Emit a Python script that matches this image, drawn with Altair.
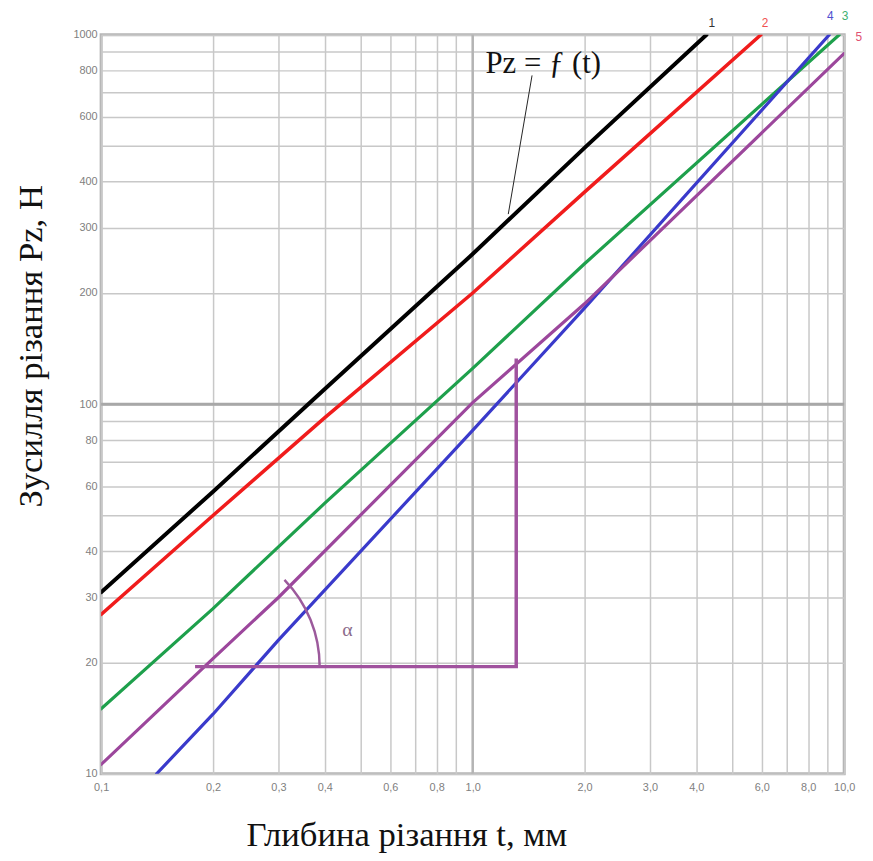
import altair as alt
import pandas as pd

# ---- data ----
series_names = ["1", "2", "3", "4", "5"]
series_colors = ["#000000", "#f01c1c", "#1ea04c", "#3a3acb", "#9c479c"]
series_widths = [4.0, 3.5, 3.2, 3.2, 3.2]

t1 = [0.1, 0.2, 0.4, 1.0, 2.0, 4.26]
p1 = [31, 58, 110, 255, 494, 1000]
t2 = [0.1, 0.2, 0.4, 1.0, 2.0, 5.97]
p2 = [27, 50, 92, 200, 375, 1000]
t3 = [0.1, 0.2, 0.4, 1.0, 2.0, 9.7]
p3 = [15, 28, 54, 125, 240, 1000]
t4 = [0.141, 0.2, 0.3, 1.0, 2.0, 9.12]
p4 = [10, 14.5, 23, 85, 182, 1000]
t5 = [0.1, 0.2, 0.3, 1.0, 2.0, 10.0]
p5 = [10.6, 20.5, 30, 101, 187, 890]

# triangle (slope construction) on curve 5
tri_t = [0.179, 1.31, 1.31]
tri_p = [19.5, 19.5, 133]
arc_t = [0.179]
arc_p = [19.5]
alpha_t = [0.46]
alpha_p = [24.5]

# formula label and its pointer
formula_text = ["Pz = ƒ (t)"]
formula_t = [1.083]
formula_p = [790]
pointer_t = [1.445, 1.247]
pointer_p = [776, 327]

# curve number labels at the top
num_t = [4.4, 6.12, 10.05, 9.18, 10.95]
num_p = [1075, 1075, 1125, 1125, 985]
num_colors = ["#333333", "#f05050", "#40b070", "#5050d0", "#e05070"]

x_grid = [0.1, 0.2, 0.3, 0.4, 0.5, 0.6, 0.7, 0.8, 0.9,
          1, 2, 3, 4, 5, 6, 7, 8, 9, 10]
x_labels = ["0.1", "0.2", "0.3", "0.4", "0.6", "0.8", "1.0",
            "2.0", "3.0", "4.0", "6.0", "8.0", "10.0"]
y_grid = [10, 20, 30, 40, 50, 60, 70, 80, 90,
          100, 200, 300, 400, 500, 600, 700, 800, 900, 1000]
y_labels = [10, 20, 30, 40, 60, 80, 100, 200, 300, 400, 600, 800, 1000]

# ---- build tables ----
rows = []
for name, ts, ps, w in zip(series_names, [t1, t2, t3, t4, t5],
                           [p1, p2, p3, p4, p5], series_widths):
    for i, (t, p) in enumerate(zip(ts, ps)):
        rows.append({"s": name, "t": t, "P": p, "o": i, "w": w})
lines_df = pd.DataFrame(rows)

tri_df = pd.DataFrame({"t": tri_t, "P": tri_p, "o": list(range(len(tri_t)))})
arc_df = pd.DataFrame({"t": arc_t, "P": arc_p})
alpha_df = pd.DataFrame({"t": alpha_t, "P": alpha_p, "txt": ["α"]})
formula_df = pd.DataFrame({"t": formula_t, "P": formula_p, "txt": formula_text})
pointer_df = pd.DataFrame({"t": pointer_t, "P": pointer_p, "o": [0, 1]})
num_df = pd.DataFrame({"t": num_t, "P": num_p, "txt": series_names, "c": num_colors})
hrule_df = pd.DataFrame({"P": [100]})
vrule_df = pd.DataFrame({"t": [1.0]})

x_label_list = ",".join("'%s'" % v for v in x_labels)
y_label_list = ",".join(str(v) for v in y_labels)

x_scale = alt.Scale(type="log", domain=[0.1, 10], nice=False)
y_scale = alt.Scale(type="log", domain=[10, 1000], nice=False)

x_axis = alt.Axis(
    values=x_grid,
    labelExpr=("indexof([%s], format(datum.value, '.1f')) >= 0 ? "
               "replace(format(datum.value, '.1f'), '.', ',') : ''") % x_label_list,
    title="Глибина різання t, мм",
    titleX=308, titleY=72, titleAnchor="middle",
    titleBaseline="alphabetic", titleAlign="center",
    labelOverlap=False, labelFlush=False, labelPadding=8,
)
y_axis = alt.Axis(
    values=y_grid,
    labelExpr=("indexof([%s], round(datum.value)) >= 0 ? "
               "format(datum.value, 'd') : ''") % y_label_list,
    title="Зусилля різання Pz, Н",
    titleX=-60, titleY=314, titleAngle=270,
    titleBaseline="alphabetic", titleAlign="center",
    labelOverlap=False, labelFlush=False, labelPadding=4,
)

base_x = alt.X("t:Q", scale=x_scale, axis=x_axis)
base_y = alt.Y("P:Q", scale=y_scale, axis=y_axis)

hrule = alt.Chart(hrule_df).mark_rule(color="#a8a8a8", strokeWidth=3).encode(y=alt.Y("P:Q"))
vrule = alt.Chart(vrule_df).mark_rule(color="#b4b4b4", strokeWidth=2.5).encode(x=alt.X("t:Q"))

lines = alt.Chart(lines_df).mark_line(clip=True, strokeCap="round").encode(
    x=base_x, y=base_y,
    color=alt.Color("s:N", scale=alt.Scale(domain=series_names, range=series_colors), legend=None),
    strokeWidth=alt.StrokeWidth("w:Q", scale=None),
    order="o:Q",
    detail="s:N",
)

tri = alt.Chart(tri_df).mark_line(color="#a0529e", strokeWidth=3.5).encode(
    x="t:Q", y="P:Q", order="o:Q")

arc = alt.Chart(arc_df).mark_arc(
    radius=127, radius2=124.5, theta=0.80, theta2=1.5708, color="#9c5a9c"
).encode(x="t:Q", y="P:Q")

alpha = alt.Chart(alpha_df).mark_text(
    font="Liberation Serif", fontSize=20, color="#8c6c8c", align="center", baseline="middle"
).encode(x="t:Q", y="P:Q", text="txt:N")

pointer = alt.Chart(pointer_df).mark_line(color="#222222", strokeWidth=1).encode(
    x="t:Q", y="P:Q", order="o:Q")

formula = alt.Chart(formula_df).mark_text(
    font="Liberation Serif", fontSize=31, color="#111111", align="left", baseline="alphabetic"
).encode(x="t:Q", y="P:Q", text="txt:N")

nums = alt.Chart(num_df).mark_text(
    font="Liberation Sans", fontSize=12, align="center", baseline="middle"
).encode(x="t:Q", y="P:Q", text="txt:N", color=alt.Color("c:N", scale=None))

chart = alt.layer(
    hrule, vrule, lines, tri, arc, alpha, pointer, formula, nums
).properties(
    width=750, height=746,
    autosize=alt.AutoSizeParams(type="none"),
    padding={"left": 94, "top": 23, "right": 21, "bottom": 80},
    background="white",
).configure_view(
    stroke="#b5b5b5", strokeWidth=3
).configure_axis(
    domain=False, ticks=False, grid=True,
    gridColor="#c8c8c8", gridWidth=1.5,
    labelColor="#808080", labelFont="Liberation Sans", labelFontSize=11,
    titleFont="Liberation Serif", titleFontSize=35, titleFontWeight="normal",
    titleColor="#111111",
)

chart.save("out.html", embed_options={"renderer": "svg", "actions": False})
